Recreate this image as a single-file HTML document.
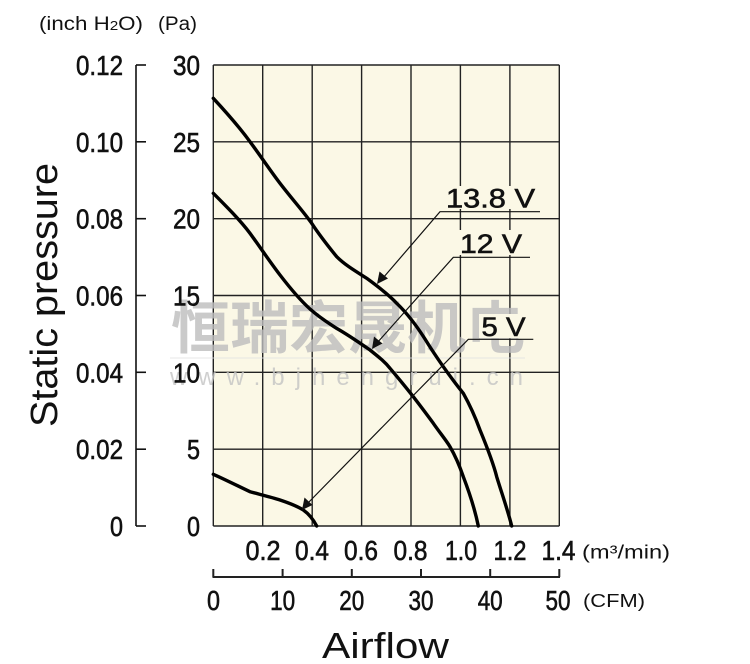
<!DOCTYPE html>
<html><head><meta charset="utf-8"><style>
html,body{margin:0;padding:0;background:#fff;}
svg{display:block;}
text{font-family:"Liberation Sans","Noto Sans CJK SC",sans-serif;fill:#111;}
.b{stroke:#111;stroke-width:0.6;}
</style></head><body>
<svg width="750" height="664" viewBox="0 0 750 664" xmlns="http://www.w3.org/2000/svg">
<!-- plot background -->
<rect x="213.3" y="65" width="346" height="461" fill="#fbf8e6"/>
<!-- grid -->
<g stroke="#222" stroke-width="1.4">
<line x1="213.3" y1="65" x2="213.3" y2="526"/>
<line x1="262.7" y1="65" x2="262.7" y2="526"/>
<line x1="312.2" y1="65" x2="312.2" y2="526"/>
<line x1="361.6" y1="65" x2="361.6" y2="526"/>
<line x1="411" y1="65" x2="411" y2="526"/>
<line x1="460.4" y1="65" x2="460.4" y2="526"/>
<line x1="509.9" y1="65" x2="509.9" y2="526"/>
<line x1="559.3" y1="65" x2="559.3" y2="526"/>
<line x1="213.3" y1="65" x2="559.3" y2="65"/>
<line x1="213.3" y1="141.8" x2="559.3" y2="141.8"/>
<line x1="213.3" y1="218.7" x2="559.3" y2="218.7"/>
<line x1="213.3" y1="295.5" x2="559.3" y2="295.5"/>
<line x1="213.3" y1="372.3" x2="559.3" y2="372.3"/>
<line x1="213.3" y1="449.2" x2="559.3" y2="449.2"/>
<line x1="213.3" y1="526" x2="559.3" y2="526"/>
</g>
<!-- watermark -->
<g opacity="0.8">
<text x="171" y="348" font-size="57" font-weight="bold" textLength="354" lengthAdjust="spacingAndGlyphs" style="fill:#bdbdbd;font-family:'Noto Sans CJK SC','WenQuanYi Zen Hei',sans-serif">恒瑞宏晟机电</text>
<line x1="170" y1="358" x2="525" y2="358" stroke="#e2e2e2" stroke-width="1"/>
<text x="170" y="385" font-size="24" textLength="353" lengthAdjust="spacing" style="fill:#c4c4c4">www.bjhengrui.cn</text>
</g>
<!-- curves -->
<g fill="none" stroke="#000" stroke-width="3.4" stroke-linejoin="round" stroke-linecap="round">
<path d="M213.3,98.3 C226,112 240,128 250,141.7 C262,158 272,173 280,183.3 C292,199 303,211 311.7,223.3 C320,236 328,246 336.7,256.7 C344,264 352,269 366.7,278.3 C380,288 390,296 396.7,303.3 C408,314 418,328 425,339 C433,352 440,362 443.3,366.7 C452,379 459,388 463.3,393.3 C471,407 476,419 480,430 C487,447 493,462 496.7,476.7 C502,494 508,511 511.7,526"/>
<path d="M213.3,193.3 C226,206 240,220 250,233.3 C260,247 270,262 280,275 C290,288 300,300 310,309 C320,318 330,324 336,328 C345,333 357,341 370,350 C380,358 385,362 390,368.3 C400,380 408,390 413.3,396.7 C422,408 428,416 433.3,423.3 C440,433 446,440 450,446.7 C456,457 460,467 463.3,476.7 C468,489 474,505 478.3,526"/>
<path d="M213.3,474.3 C224,479 240,487 250,491.7 C258,494 271,497 280,500 C289,503 297,506 303.3,510 C309,514 313,519 316.7,526"/>
</g>
<!-- label backgrounds -->
<rect x="444" y="186" width="93" height="23" fill="#fbf8e6"/>
<rect x="458" y="230" width="66" height="25" fill="#fbf8e6"/>
<rect x="479" y="314" width="48" height="24" fill="#fbf8e6"/>
<!-- leaders -->
<g stroke="#111" stroke-width="1.2" fill="none">
<polyline points="540,211.7 440,211.7 383,278"/>
<polyline points="530,257.3 453.3,257.3 377,343"/>
<polyline points="533.3,339.3 468.3,339.3 306,505"/>
</g>
<g fill="#111">
<polygon points="377,284 379.5,271.5 388,278.5"/>
<polygon points="372,349 374,336.5 382.5,343.5"/>
<polygon points="302,510 304.5,497.5 312.5,505"/>
</g>
<g class="b">
<text x="446" y="207.5" font-size="26.5" textLength="89" lengthAdjust="spacingAndGlyphs">13.8 V</text>
<text x="460" y="253" font-size="26.5" textLength="62" lengthAdjust="spacingAndGlyphs">12 V</text>
<text x="481.5" y="336" font-size="26.5" textLength="44" lengthAdjust="spacingAndGlyphs">5 V</text>
</g>
<!-- left inch axis -->
<g stroke="#111" stroke-width="1.6">
<line x1="136" y1="65" x2="136" y2="526"/>
<line x1="136" y1="65" x2="146" y2="65"/>
<line x1="136" y1="141.8" x2="146" y2="141.8"/>
<line x1="136" y1="218.7" x2="146" y2="218.7"/>
<line x1="136" y1="295.5" x2="146" y2="295.5"/>
<line x1="136" y1="372.3" x2="146" y2="372.3"/>
<line x1="136" y1="449.2" x2="146" y2="449.2"/>
<line x1="136" y1="526" x2="146" y2="526"/>
</g>
<g font-size="28" text-anchor="end" class="b">
<text x="123" y="75" textLength="47" lengthAdjust="spacingAndGlyphs">0.12</text>
<text x="123" y="151.8" textLength="47" lengthAdjust="spacingAndGlyphs">0.10</text>
<text x="123" y="228.7" textLength="47" lengthAdjust="spacingAndGlyphs">0.08</text>
<text x="123" y="305.5" textLength="47" lengthAdjust="spacingAndGlyphs">0.06</text>
<text x="123" y="382.3" textLength="47" lengthAdjust="spacingAndGlyphs">0.04</text>
<text x="123" y="459.2" textLength="47" lengthAdjust="spacingAndGlyphs">0.02</text>
<text x="123" y="536" textLength="13" lengthAdjust="spacingAndGlyphs">0</text>
<text x="200" y="75" textLength="27" lengthAdjust="spacingAndGlyphs">30</text>
<text x="200" y="151.8" textLength="27" lengthAdjust="spacingAndGlyphs">25</text>
<text x="200" y="228.7" textLength="27" lengthAdjust="spacingAndGlyphs">20</text>
<text x="200" y="305.5" textLength="27" lengthAdjust="spacingAndGlyphs">15</text>
<text x="200" y="382.3" textLength="27" lengthAdjust="spacingAndGlyphs">10</text>
<text x="200" y="459.2" textLength="13" lengthAdjust="spacingAndGlyphs">5</text>
<text x="200" y="536" textLength="13" lengthAdjust="spacingAndGlyphs">0</text>
</g>
<!-- unit headers -->
<text x="39" y="30" font-size="19" textLength="104" lengthAdjust="spacingAndGlyphs">(inch H<tspan font-size="13">2</tspan>O)</text>
<text x="158" y="30" font-size="19" textLength="39" lengthAdjust="spacingAndGlyphs">(Pa)</text>
<!-- y title -->
<text transform="translate(57,295) rotate(-90)" x="0" y="0" font-size="38" text-anchor="middle" textLength="264" lengthAdjust="spacingAndGlyphs">Static pressure</text>
<!-- m3/min labels -->
<g font-size="28" text-anchor="middle" class="b">
<text x="263" y="560" textLength="35" lengthAdjust="spacingAndGlyphs">0.2</text>
<text x="312" y="560" textLength="34" lengthAdjust="spacingAndGlyphs">0.4</text>
<text x="361" y="560" textLength="34" lengthAdjust="spacingAndGlyphs">0.6</text>
<text x="410.5" y="560" textLength="34" lengthAdjust="spacingAndGlyphs">0.8</text>
<text x="461" y="560" textLength="32" lengthAdjust="spacingAndGlyphs">1.0</text>
<text x="510" y="560" textLength="33" lengthAdjust="spacingAndGlyphs">1.2</text>
<text x="558.5" y="560" textLength="34" lengthAdjust="spacingAndGlyphs">1.4</text>
</g>
<text x="582" y="558.5" font-size="19" textLength="88" lengthAdjust="spacingAndGlyphs">(m³/min)</text>
<!-- CFM axis -->
<g stroke="#222" stroke-width="2">
<line x1="212.5" y1="577" x2="560" y2="577"/>
<line x1="213.3" y1="569" x2="213.3" y2="577"/>
<line x1="282.6" y1="569" x2="282.6" y2="577"/>
<line x1="351.8" y1="569" x2="351.8" y2="577"/>
<line x1="421" y1="569" x2="421" y2="577"/>
<line x1="490.2" y1="569" x2="490.2" y2="577"/>
<line x1="559.3" y1="569" x2="559.3" y2="577"/>
</g>
<g font-size="28" text-anchor="middle" class="b">
<text x="213.5" y="610" textLength="13" lengthAdjust="spacingAndGlyphs">0</text>
<text x="282.6" y="610" textLength="25" lengthAdjust="spacingAndGlyphs">10</text>
<text x="351.8" y="610" textLength="25" lengthAdjust="spacingAndGlyphs">20</text>
<text x="421" y="610" textLength="25" lengthAdjust="spacingAndGlyphs">30</text>
<text x="490.2" y="610" textLength="25" lengthAdjust="spacingAndGlyphs">40</text>
<text x="558" y="610" textLength="25" lengthAdjust="spacingAndGlyphs">50</text>
</g>
<text x="583" y="607" font-size="18" textLength="62" lengthAdjust="spacingAndGlyphs">(CFM)</text>
<text x="322" y="658" font-size="36" textLength="127" lengthAdjust="spacingAndGlyphs">Airflow</text>
</svg>
</body></html>
